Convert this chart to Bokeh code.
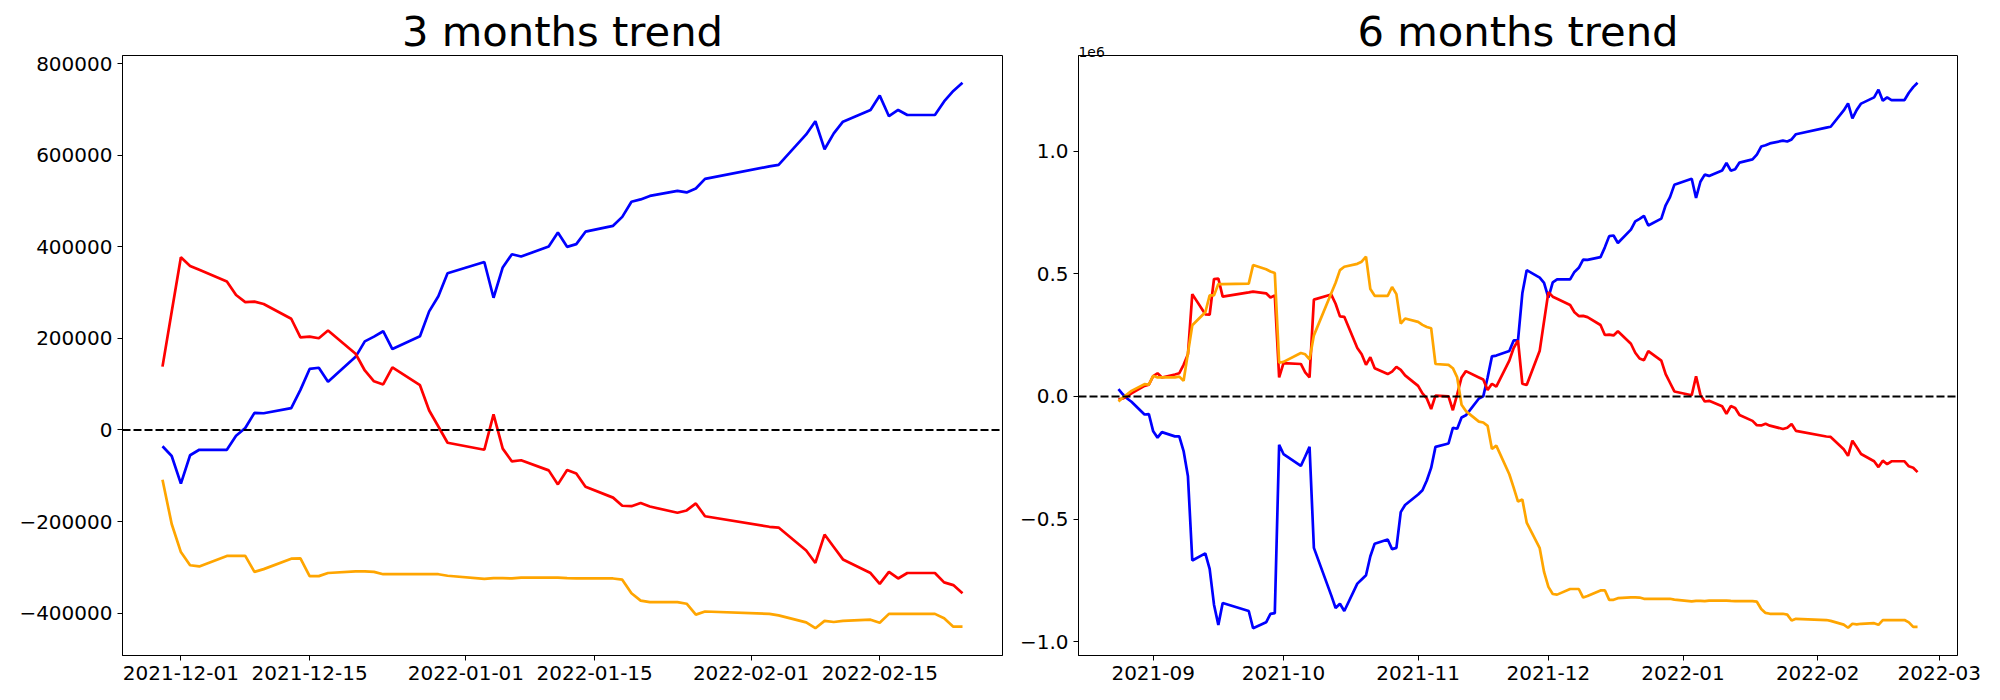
import pandas as pd
from bokeh.plotting import figure
from bokeh.layouts import row
from bokeh.models import Range1d, FixedTicker, DatetimeTickFormatter, Span, Label
from bokeh.embed import file_html
from bokeh.resources import INLINE

# ---------------- data: 3 months ----------------
dates_3m = [
    "2021-11-29", "2021-11-30",
    "2021-12-01", "2021-12-02", "2021-12-03", "2021-12-06", "2021-12-07", "2021-12-08", "2021-12-09", "2021-12-10",
    "2021-12-13", "2021-12-14", "2021-12-15", "2021-12-16", "2021-12-17", "2021-12-20", "2021-12-21", "2021-12-22",
    "2021-12-23", "2021-12-24", "2021-12-27", "2021-12-28", "2021-12-29", "2021-12-30",
    "2022-01-03", "2022-01-04", "2022-01-05", "2022-01-06", "2022-01-07", "2022-01-10", "2022-01-11", "2022-01-12",
    "2022-01-13", "2022-01-14", "2022-01-17", "2022-01-18", "2022-01-19", "2022-01-20", "2022-01-21", "2022-01-24",
    "2022-01-25", "2022-01-26", "2022-01-27",
    "2022-02-03", "2022-02-04", "2022-02-07", "2022-02-08", "2022-02-09", "2022-02-10", "2022-02-11", "2022-02-14",
    "2022-02-15", "2022-02-16", "2022-02-17", "2022-02-18", "2022-02-21", "2022-02-22", "2022-02-23", "2022-02-24",
]
blue_3m = [
    -35700, -56900, -117200, -55200, -43300, -43300, -12700, 4200, 37400, 36500,
    47600, 87500, 133300, 135900, 105300, 159700, 193600, 203800, 215700, 176700,
    204700, 259000, 292200, 342300, 366900, 288800, 355000, 383900, 378800, 400900,
    431400, 400000, 406000, 433100, 445900, 465400, 498500, 503600, 511300, 522300,
    518900, 527400, 548600, 575800, 579200, 645500, 674300, 613200, 648000, 673500,
    699000, 730400, 685400, 699000, 688000, 688000, 717700, 740600, 758400,
]
red_3m = [
    138400, 258200, 377100, 358400, 349900, 324400, 294700, 279400, 280300, 275200,
    242900, 202100, 203800, 200400, 217400, 166500, 129900, 106200, 99400, 136700,
    97700, 42500, 7600, -28000, -43300, 34000, -40800, -68800, -66200, -88300,
    -118900, -87500, -95100, -124000, -147800, -165600, -166500, -159700, -167300, -180900,
    -175800, -160500, -188500, -211500, -213200, -263300, -290500, -228500, -255700, -282800,
    -312500, -336300, -310000, -324400, -312500, -312500, -332900, -338900, -356700,
]
orange_3m = [
    -108700, -205500, -266700, -295600, -298100, -275200, -275200, -275200, -310000, -304000,
    -281100, -280300, -319300, -319300, -312500, -309100, -309100, -310000, -315100, -315100,
    -315100, -315100, -315100, -318500, -325300, -323600, -323600, -324400, -322700, -322700,
    -322700, -323600, -324400, -324400, -324400, -327000, -356700, -372800, -376200, -376200,
    -379600, -403400, -396600, -401700, -405100, -420400, -433100, -417000, -419500, -417000,
    -414500, -421200, -401700, -401700, -401700, -401700, -411100, -429700, -429700,
]

# ---------------- data: 6 months ----------------
dates_6m = [
    "2021-08-24", "2021-08-25", "2021-08-26", "2021-08-27", "2021-08-30", "2021-08-31",
    "2021-09-01", "2021-09-02", "2021-09-03", "2021-09-06", "2021-09-07", "2021-09-08", "2021-09-09", "2021-09-10",
    "2021-09-13", "2021-09-14", "2021-09-15", "2021-09-16", "2021-09-17", "2021-09-23", "2021-09-24", "2021-09-27",
    "2021-09-28", "2021-09-29", "2021-09-30",
    "2021-10-01", "2021-10-05", "2021-10-06", "2021-10-07", "2021-10-08", "2021-10-12", "2021-10-13", "2021-10-14",
    "2021-10-15", "2021-10-18", "2021-10-19", "2021-10-20", "2021-10-21", "2021-10-22", "2021-10-25", "2021-10-26",
    "2021-10-27", "2021-10-28", "2021-10-29",
    "2021-11-01", "2021-11-02", "2021-11-03", "2021-11-04", "2021-11-05", "2021-11-08", "2021-11-09", "2021-11-10",
    "2021-11-11", "2021-11-12", "2021-11-15", "2021-11-16", "2021-11-17", "2021-11-18", "2021-11-19", "2021-11-22",
    "2021-11-23", "2021-11-24", "2021-11-25", "2021-11-26",
] + dates_3m
blue_6m = [
    29200, 8600, -8600, -22000, -73800, -72000,
    -142400, -168100, -145800, -163000, -163000, -223000, -325900, -669000, -639800, -703300,
    -849100, -931400, -842200, -874800, -945100, -921100, -886800, -883400, -197300,
    -235000, -283000, -245000, -205800, -617500, -811300, -862800, -845600, -874800, -763300,
    -746200, -729000, -651800, -600400, -583200, -622700, -617500, -471700, -442600,
    -399700, -382500, -343100, -291600, -205800, -192100, -128600, -132100, -85800, -77200,
    -8600, 0, 77200, 163000, 166400, 185200, 228100, 228100, 420200, 514600,
    484300, 463100, 402800, 464800, 476700, 476700, 507300, 524200, 557400, 556500,
    567600, 607500, 653300, 655900, 625300, 679700, 713600, 723800, 735700, 696700,
    724700, 779000, 812200, 862300, 886900, 808800, 875000, 903900, 898800, 920900,
    951400, 920000, 926000, 953100, 965900, 985400, 1018500, 1023600, 1031300, 1042300,
    1038900, 1047400, 1068600, 1095800, 1099200, 1165500, 1194300, 1133200, 1168000, 1193500,
    1219000, 1250400, 1205400, 1219000, 1208000, 1208000, 1237700, 1260600, 1278400,
]
red_6m = [
    -12000, -8600, 0, 12000, 42900, 48000,
    82300, 94300, 77200, 89200, 94300, 128600, 171500, 416800, 334500, 332800,
    478600, 480300, 406500, 423700, 427100, 420200, 403000, 411700, 77200,
    135500, 132100, 97800, 77200, 394500, 415100, 377400, 325900, 324200, 197300,
    171500, 128600, 159500, 114900, 90900, 101200, 120100, 108100, 85800,
    42900, 12000, -8600, -51500, 3400, 0, -56600, 8600, 77200, 102900,
    77200, 68600, 25700, 51500, 39500, 145800, 197300, 228100, 51500, 46300,
    186400, 306200, 425100, 406400, 397900, 372400, 342700, 327400, 328300, 323200,
    290900, 250100, 251800, 248400, 265400, 214500, 177900, 154200, 147400, 184700,
    145700, 90500, 55600, 20000, 4700, 82000, 7200, -20800, -18200, -40300,
    -70900, -39500, -47100, -76000, -99800, -117600, -118500, -111700, -119300, -132900,
    -127800, -112500, -140500, -163500, -165200, -215300, -242500, -180500, -207700, -234800,
    -264500, -288300, -262000, -276400, -264500, -264500, -284900, -290900, -308700,
]
orange_6m = [
    -20600, -5100, 8600, 22300, 49700, 48000,
    84000, 77200, 77200, 77200, 80600, 63500, 176700, 289900, 343100, 411700,
    411700, 458000, 458000, 459700, 535200, 518000, 509400, 502600, 137200,
    140700, 176700, 171500, 150900, 248700, 420200, 463100, 514600, 528300, 540300,
    548900, 569500, 437400, 410000, 410000, 446000, 416800, 296700, 317300,
    303600, 291600, 283000, 277900, 132100, 128600, 114900, 77200, -34300, -60000,
    -102900, -106300, -120100, -214400, -200700, -317300, -372200, -428800, -420200, -514600,
    -618700, -715500, -776700, -805600, -808100, -785200, -785200, -785200, -820000, -814000,
    -791100, -790300, -829300, -829300, -822500, -819100, -819100, -820000, -825100, -825100,
    -825100, -825100, -825100, -828500, -835300, -833600, -833600, -834400, -832700, -832700,
    -832700, -833600, -834400, -834400, -834400, -837000, -866700, -882800, -886200, -886200,
    -889600, -913400, -906600, -911700, -915100, -930400, -943100, -927000, -929500, -927000,
    -924500, -931200, -911700, -911700, -911700, -911700, -921100, -939700, -939700,
]

# ---------------- ticks ----------------
xticks_3m = ["2021-12-01", "2021-12-15", "2022-01-01", "2022-01-15", "2022-02-01", "2022-02-15"]
yticks_3m = [-400000, -200000, 0, 200000, 400000, 600000, 800000]
ylabels_3m = ["\u2212400000", "\u2212200000", "0", "200000", "400000", "600000", "800000"]

xticks_6m = ["2021-09-01", "2021-10-01", "2021-11-01", "2021-12-01", "2022-01-01", "2022-02-01", "2022-03-01"]
yticks_6m = [-1000000, -500000, 0, 500000, 1000000]
ylabels_6m = ["\u22121.0", "\u22120.5", "0.0", "0.5", "1.0"]

FONT = "DejaVu Sans"

FRAME_W2 = 879   # frame width of the right figure
FRAME_H = 600


def ms(d):
    return pd.Timestamp(d).value / 1e6


def make_fig(dates, blue, red, orange, title, xticks, xfmt, yticks, ylabels,
             width, left, right):
    x = pd.to_datetime(dates)
    allv = blue + red + orange
    ymin, ymax = min(allv), max(allv)
    ypad = 0.05 * (ymax - ymin)
    x0, x1 = ms(x.min()), ms(x.max())
    xpad = 0.05 * (x1 - x0)
    p = figure(width=width, height=692, x_axis_type="datetime",
               output_backend="svg", toolbar_location=None,
               x_range=Range1d(x0 - xpad, x1 + xpad),
               y_range=Range1d(ymin - ypad, ymax + ypad),
               min_border_left=left, min_border_right=right,
               min_border_top=55, min_border_bottom=37)
    p.title.text = title
    p.title.align = "center"
    p.title.text_font = FONT
    p.title.text_font_size = "41.7px"
    p.title.text_font_style = "normal"
    p.title.text_color = "black"
    p.title.standoff = 0

    p.line(x, blue, line_color="blue", line_width=2.7)
    p.line(x, red, line_color="red", line_width=2.7)
    p.line(x, orange, line_color="orange", line_width=2.7)
    p.add_layout(Span(location=0, dimension="width", line_color="black",
                      line_dash="8 3", line_width=2))

    p.xgrid.visible = False
    p.ygrid.visible = False
    p.outline_line_color = "black"
    p.outline_line_width = 1
    p.outline_line_alpha = 1
    p.background_fill_color = "white"
    p.border_fill_color = "white"

    for ax in (p.xaxis[0], p.yaxis[0]):
        ax.axis_line_color = "black"
        ax.axis_line_width = 1
        ax.major_tick_line_color = "black"
        ax.major_tick_line_width = 1
        ax.major_tick_out = 5
        ax.major_tick_in = 0
        ax.minor_tick_out = 0
        ax.minor_tick_in = 0
        ax.major_label_text_font = FONT
        ax.major_label_text_font_size = "20px"
        ax.major_label_text_color = "black"
        ax.major_label_standoff = 5

    p.xaxis.ticker = FixedTicker(ticks=[ms(t) for t in xticks])
    p.xaxis.formatter = DatetimeTickFormatter(
        days=xfmt, months=xfmt, years=xfmt, hours=xfmt, hourmin=xfmt,
        minutes=xfmt, minsec=xfmt, seconds=xfmt, milliseconds=xfmt,
        microseconds=xfmt)
    p.yaxis.ticker = FixedTicker(ticks=[float(t) for t in yticks])
    p.yaxis.major_label_overrides = {float(t): l for t, l in zip(yticks, ylabels)}
    return p


p1 = make_fig(dates_3m, blue_3m, red_3m, orange_3m, "3 months trend",
              xticks_3m, "%Y-%m-%d", yticks_3m, ylabels_3m,
              width=1016, left=122, right=14)
p2 = make_fig(dates_6m, blue_6m, red_6m, orange_6m, "6 months trend",
              xticks_6m, "%Y-%m", yticks_6m, ylabels_6m,
              width=976, left=62, right=35)

# scale offset text "1e6": kept in the (unclipped) right side panel and
# drawn just above the top-left corner of the frame
p2.add_layout(Label(x=-FRAME_W2, y=FRAME_H + 3.5, x_units="screen", y_units="screen",
                    text="1e6", text_align="left", text_baseline="alphabetic",
                    text_font=FONT, text_font_size="13.9px", text_color="black"),
              "right")

layout = row(p1, p2)
open("out.html", "w").write(file_html(layout, INLINE))
